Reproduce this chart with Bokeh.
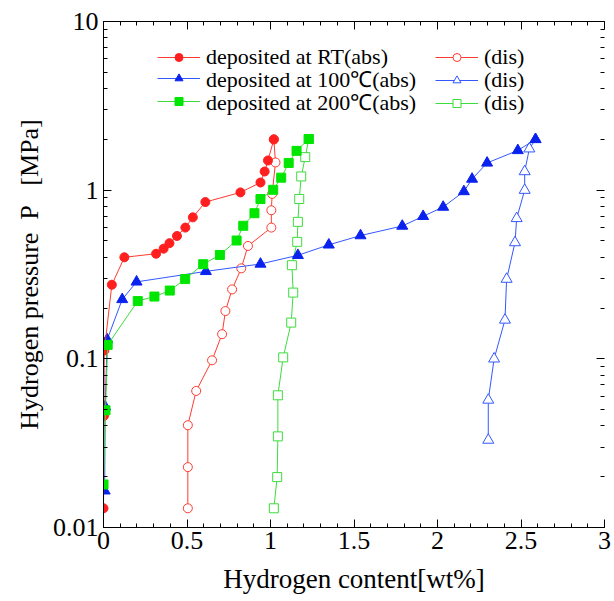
import math
from bokeh.plotting import figure
from bokeh.models import (LinearAxis, LogAxis, Range1d, FixedTicker, Legend, LegendItem)
from bokeh.embed import file_html
from bokeh.resources import INLINE

# ---------------- data ----------------
rt_abs_x = [0.0, 0.003, 0.005, 0.05, 0.125, 0.315, 0.36, 0.395, 0.44, 0.49, 0.535, 0.61, 0.82, 0.94, 0.965, 0.985, 1.02]
rt_abs_p = [0.013, 0.046, 0.112, 0.275, 0.40, 0.42, 0.45, 0.485, 0.535, 0.60, 0.69, 0.85, 0.97, 1.11, 1.29, 1.50, 2.0]
rt_dis_x = [1.02, 1.03, 1.01, 1.005, 1.005, 0.865, 0.825, 0.77, 0.73, 0.71, 0.65, 0.555, 0.505, 0.505, 0.505]
rt_dis_p = [2.0, 1.46, 0.95, 0.76, 0.60, 0.467, 0.344, 0.258, 0.192, 0.14, 0.098, 0.0645, 0.0404, 0.0228, 0.013]

t100_abs_x = [0.007, 0.01, 0.022, 0.112, 0.198, 0.613, 0.94, 1.164, 1.349, 1.539, 1.789, 1.914, 2.034, 2.158, 2.207, 2.297, 2.481, 2.587]
t100_abs_p = [0.0165, 0.052, 0.13, 0.225, 0.286, 0.33, 0.365, 0.411, 0.474, 0.538, 0.613, 0.70, 0.794, 0.982, 1.164, 1.45, 1.72, 2.0]
t100_dis_x = [2.587, 2.55, 2.522, 2.522, 2.474, 2.464, 2.414, 2.404, 2.339, 2.304, 2.304]
t100_dis_p = [2.0, 1.76, 1.29, 1.0, 0.68, 0.489, 0.297, 0.17, 0.1, 0.057, 0.033]

t200_abs_x = [0.0, 0.012, 0.025, 0.205, 0.305, 0.397, 0.489, 0.597, 0.697, 0.797, 0.837, 0.904, 0.94, 1.016, 1.064, 1.109, 1.156, 1.229]
t200_abs_p = [0.018, 0.0495, 0.121, 0.22, 0.234, 0.254, 0.297, 0.364, 0.413, 0.503, 0.615, 0.73, 0.886, 1.005, 1.186, 1.45, 1.71, 2.01]
t200_dis_x = [1.229, 1.208, 1.184, 1.172, 1.164, 1.16, 1.128, 1.136, 1.124, 1.076, 1.044, 1.044, 1.04, 1.02]
t200_dis_p = [2.01, 1.57, 1.206, 0.886, 0.649, 0.494, 0.359, 0.247, 0.164, 0.102, 0.0608, 0.0347, 0.0199, 0.013]

abs_labels = ["deposited at RT(abs)", "deposited at 100\u2103(abs)", "deposited at 200\u2103(abs)"]
dis_labels = ["(dis)", "(dis)", "(dis)"]

x_tick_values = [0, 0.5, 1, 1.5, 2, 2.5, 3]
x_tick_labels = ["0", "0.5", "1", "1.5", "2", "2.5", "3"]
y_tick_values = [0.01, 0.1, 1, 10]
y_tick_labels = ["0.01", "0.1", "1", "10"]

x_label = "Hydrogen content[wt%]"
y_label = "Hydrogen pressure\u00a0\u00a0P\u00a0\u00a0\u00a0[MPa]"

# ---------------- figure ----------------
FONT = "Liberation Serif"

p = figure(width=614, height=601, x_range=Range1d(0, 3), y_range=Range1d(0.01, 10),
           y_axis_type="log", output_backend="svg", toolbar_location=None,
           min_border_left=103, min_border_right=10, min_border_top=21, min_border_bottom=74)
p.grid.visible = False
p.outline_line_color = None
p.background_fill_color = "white"
p.border_fill_color = "white"

x_minor = [round(i * 0.1, 2) for i in range(0, 31)]
y_minor = [m * 10.0 ** k for k in range(-2, 1) for m in range(2, 10)]
xticker = FixedTicker(ticks=x_tick_values, minor_ticks=x_minor)
yticker = FixedTicker(ticks=y_tick_values, minor_ticks=y_minor)


def style_axis(ax, size="26px"):
    ax.major_tick_in = 8
    ax.major_tick_out = 0
    ax.minor_tick_in = 4
    ax.minor_tick_out = 0
    ax.axis_line_color = "black"
    ax.major_tick_line_color = "black"
    ax.minor_tick_line_color = "black"
    ax.axis_line_width = 1
    ax.major_label_text_font = FONT
    ax.major_label_text_font_size = size
    ax.major_label_text_color = "black"


xa = p.xaxis[0]
xa.ticker = xticker
xa.major_label_overrides = dict(zip(x_tick_values, x_tick_labels))
style_axis(xa)
xa.major_label_standoff = 4
xa.axis_label = x_label
xa.axis_label_text_font = FONT
xa.axis_label_text_font_style = "normal"
xa.axis_label_text_font_size = "27px"
xa.axis_label_text_color = "black"
xa.axis_label_standoff = 12

ya = p.yaxis[0]
ya.ticker = yticker
ya.major_label_overrides = dict(zip(y_tick_values, y_tick_labels))
style_axis(ya)
ya.major_label_standoff = 5
ya.axis_label = y_label
ya.axis_label_text_font = FONT
ya.axis_label_text_font_style = "normal"
ya.axis_label_text_font_size = "26px"
ya.axis_label_text_color = "black"
ya.axis_label_standoff = 6

# mirrored tick-only axes (no labels)
top = LinearAxis(ticker=xticker, major_label_overrides={v: "" for v in x_tick_values})
style_axis(top, "2px")
top.major_label_standoff = 0
p.add_layout(top, "above")

right = LogAxis(ticker=yticker, major_label_overrides={v: "" for v in y_tick_values})
style_axis(right, "2px")
right.major_label_standoff = 0
right.axis_line_color = None
p.add_layout(right, "right")

# ---------------- series ----------------
RED_M, RED_L = "#ff1f1f", "#ff3b30"
BLUE_M, BLUE_L = "#0a22ee", "#3358ff"
GREEN_M, GREEN_L = "#00e600", "#3ddc3d"


def series(x, y, lc, mc, marker, fill, size):
    l = p.line(x, y, line_color=lc, line_width=1)
    s = p.scatter(x, y, marker=marker, size=size, line_color=mc,
                  fill_color=fill, line_width=1)
    return [l, s]


r_rt_dis = series(rt_dis_x, rt_dis_p, RED_L, RED_L, "circle", "white", 9)
r_200_dis = series(t200_dis_x, t200_dis_p, GREEN_L, GREEN_L, "square", "white", 9)
r_100_dis = series(t100_dis_x, t100_dis_p, BLUE_L, BLUE_L, "triangle", "white", 11)
r_100_abs = series(t100_abs_x, t100_abs_p, BLUE_L, BLUE_M, "triangle", BLUE_M, 11)
r_rt_abs = series(rt_abs_x, rt_abs_p, RED_L, RED_M, "circle", RED_M, 9)
r_200_abs = series(t200_abs_x, t200_abs_p, GREEN_L, GREEN_M, "square", GREEN_M, 9)

abs_rs = [r_rt_abs, r_100_abs, r_200_abs]
dis_rs = [r_rt_dis, r_100_dis, r_200_dis]

# one single-row legend per entry, so the row pitch matches the reference
row_offsets = [0, 23, 46]          # vertical pitch of legend rows (px)
first_row_bottom = 457             # frame-relative bottom of the first row (px)


def make_legend(label, rs, loc):
    leg = Legend(items=[LegendItem(label=label, renderers=rs)],
                 location=loc, orientation="vertical",
                 glyph_width=43, glyph_height=20, label_standoff=6, spacing=0,
                 padding=0, margin=0, border_line_color=None, background_fill_alpha=0,
                 label_text_font=FONT, label_text_font_size="22px", label_height=20,
                 label_text_color="black")
    p.add_layout(leg)


for lab, rs, off in zip(abs_labels, abs_rs, row_offsets):
    make_legend(lab, rs, (54, first_row_bottom - off))
for lab, rs, off in zip(dis_labels, dis_rs, row_offsets):
    make_legend(lab, rs, (332, first_row_bottom - off))

open("out.html", "w").write(file_html(p, INLINE))
